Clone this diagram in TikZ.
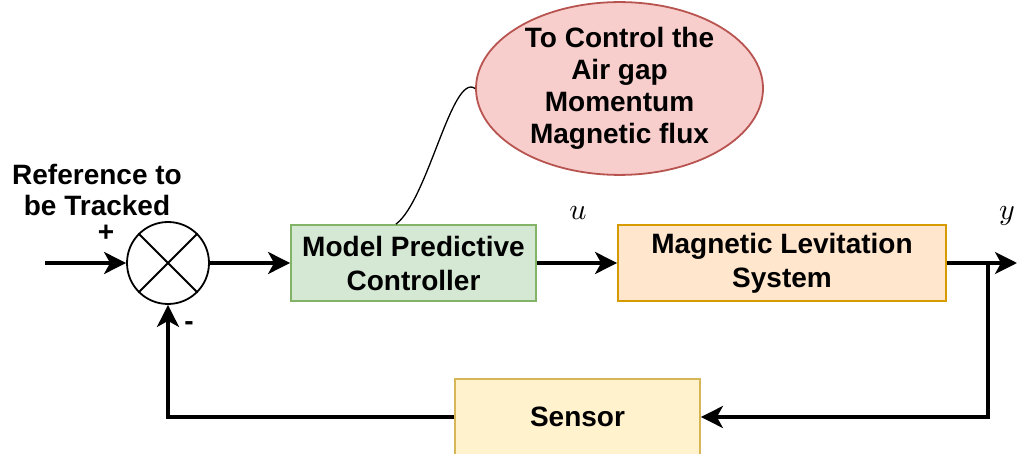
\documentclass[tikz,border=0pt]{standalone}
\usepackage{fontspec}
\setmainfont{Liberation Sans}
\usetikzlibrary{shapes.geometric,arrows.meta}
\definecolor{mpcfill}{HTML}{D5E8D4}
\definecolor{mpcdraw}{HTML}{82B366}
\definecolor{plantfill}{HTML}{FFE6CC}
\definecolor{plantdraw}{HTML}{D79B00}
\definecolor{sensfill}{HTML}{FFF2CC}
\definecolor{sensdraw}{HTML}{D6B656}
\definecolor{notefill}{HTML}{F8CECC}
\definecolor{notedraw}{HTML}{B85450}
\tikzset{
  blockbox/.style={draw, line width=1.8pt, minimum height=76pt, align=center,
    font=\fontsize{28}{34}\selectfont\bfseries, inner sep=0pt},
  sig/.style={line width=3.4pt, -{Stealth[length=22pt,width=22pt,inset=6pt]}},
  lbl/.style={font=\fontsize{28}{31}\selectfont\bfseries, align=center, inner sep=0pt},
  mlbl/.style={inner sep=0pt},
}
\begin{document}
\begin{tikzpicture}[x=1pt,y=-1pt]
\useasboundingbox (0,0) rectangle (1018,454);

% summing junction
\node[circle, draw, line width=1.8pt, minimum size=82pt, inner sep=0pt] (sum) at (168,263) {};
\draw[line width=1.8pt] (sum.45) -- (sum.225) (sum.135) -- (sum.315);

% blocks
\node[blockbox, fill=mpcfill, draw=mpcdraw, minimum width=245pt] (mpc) at (413.5,263) {Model Predictive\\Controller};
\node[blockbox, fill=plantfill, draw=plantdraw, minimum width=328pt] (plant) at (782,263) {Magnetic Levitation\\System};
\node[blockbox, fill=sensfill, draw=sensdraw, minimum width=245pt] (sensor) at (577.5,417) {Sensor};

% note
\node[ellipse, draw=notedraw, fill=notefill, line width=1.8pt, minimum width=287pt, minimum height=153pt,
  inner sep=0pt, align=center, font=\fontsize{28}{32}\selectfont\bfseries] (note) at (619.5,88.5)
  {To Control the\\Air gap\\Momentum\\Magnetic flux};

% signal path
\coordinate (in) at (45,263);
\coordinate (out) at (1017,263);
\coordinate (branch) at (988,263);
\coordinate (fbcorner) at (168,417);

\draw[sig] (in) -- (sum.west);
\draw[sig] (sum.east) -- (mpc.west);
\draw[sig] (mpc.east) -- (plant.west);
\draw[sig] (plant.east) -- (out);
\draw[sig] (branch) |- (sensor.east);
\draw[sig] (sensor.west) -- (fbcorner) -- (sum.south);

% note connector
\draw[line width=1.3pt] (mpc.north -| 396,0) .. controls (428,200) and (452,72) .. (note.west);

% labels
\node[lbl] (reflbl) at (97,190) {Reference to\\be Tracked};
\node[lbl] (plus) at (106,233) {+};
\node[lbl] (minus) at (189,326) {-};
\node[mlbl] (ulbl) at (578,213) {\scalebox{3}{$u$}};
\node[mlbl] (ylbl) at (1007,216) {\scalebox{3}{$y$}};
\end{tikzpicture}
\end{document}
